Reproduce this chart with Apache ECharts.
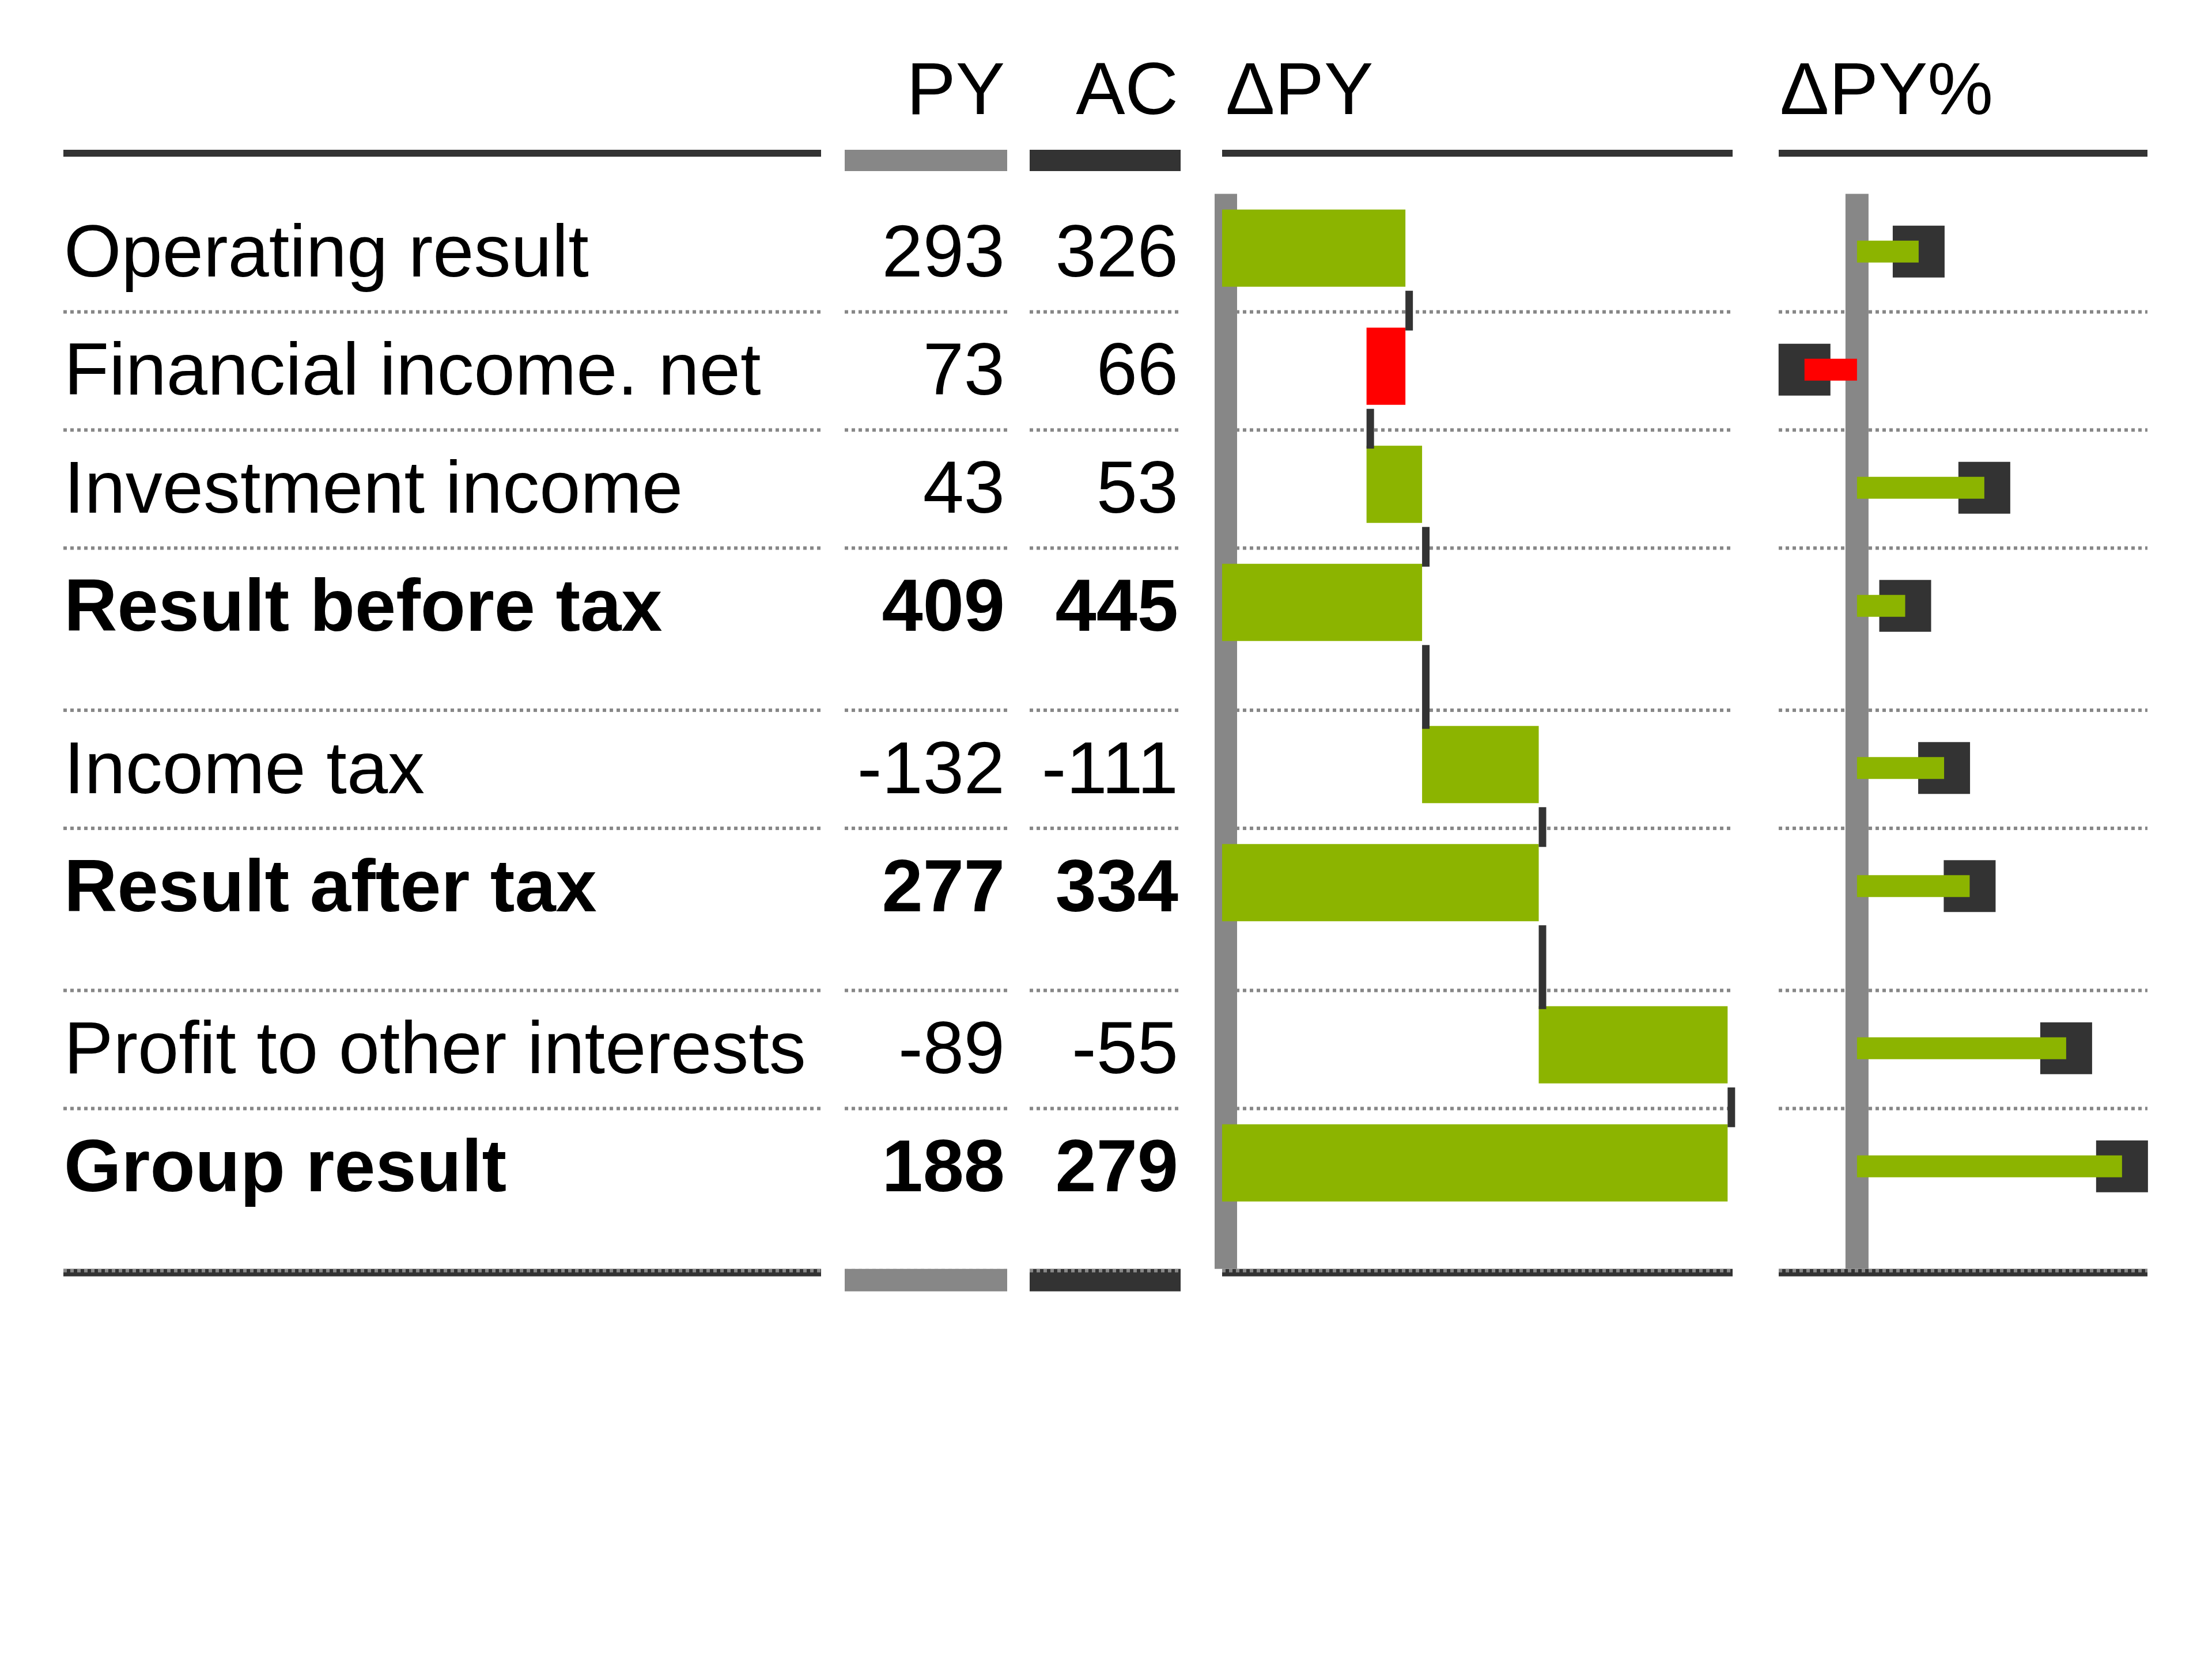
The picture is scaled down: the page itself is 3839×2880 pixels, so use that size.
<!DOCTYPE html>
<html>
<head>
<meta charset="utf-8">
<title>Income statement ΔPY</title>
<script src="https://cdn.jsdelivr.net/npm/echarts@6/dist/echarts.min.js"></script>
<style>
  html, body { margin: 0; padding: 0; background: #fff; }
  #chart { width: 3839px; height: 2880px; }
</style>
</head>
<body>
<div id="chart"></div>
<script>
// statement rows
const categories = [
  'Operating result',
  'Financial income. net',
  'Investment income',
  'Result before tax',
  'Income tax',
  'Result after tax',
  'Profit to other interests',
  'Group result'
];
const py = [293, 73, 43, 409, -132, 277, -89, 188];
const ac = [326, 66, 53, 445, -111, 334, -55, 279];
const isTotal = [false, false, false, true, false, true, false, true];
const headers = ['PY', 'AC', 'ΔPY', 'ΔPY%'];

const GREEN = '#8cb400', RED = '#ff0000', DARK = '#333333', GRAY = '#878787';
const FONT = '"Liberation Sans", Arial, sans-serif';
const FONT_SIZE = 128;

/* derived values */
const delta = ac.map((v, i) => v - py[i]);
const pct = delta.map((d, i) => d / Math.abs(py[i]) * 100);
// waterfall: deltas stack up, totals start again from zero
const wfStart = [], wfEnd = [];
let run = 0;
delta.forEach((d, i) => {
  if (isTotal[i]) {
    wfStart.push(0); wfEnd.push(d); run = d;
  } else {
    wfStart.push(run); run += d; wfEnd.push(run);
  }
});

/* row layout, in row units (one row = 1, extra space after totals) */
const GAP = 0.373;
const ROW_MID = 0.46;
const ROW_PX = 205;
const rowTop = [];
let t = 0;
isTotal.forEach(tot => { rowTop.push(t); t += 1 + (tot ? GAP : 0); });
const yMin = -GAP, yMax = t;
const gridTop = 260;
const gridHeight = (yMax - yMin) * ROW_PX;

// label, PY, AC, ΔPY, ΔPY% columns
const gridBox = [[110, 1315], [1466, 282], [1787, 262], [2121, 886], [3087, 640]];
const xRange = [[0, 1], [0, 1], [0, 1], [0, 91.9], [-14.3, 53.05]];

function xEdges(api, g, y) {
  const a = api.coord([xRange[g][0], y]);
  const b = api.coord([xRange[g][1], y]);
  return [a[0], b[0], a[1]];
}

function textEl(x, y, text, bold, align) {
  return {
    type: 'text', x: x, y: y,
    style: {
      text: text, fill: '#000', fontSize: FONT_SIZE, fontFamily: FONT,
      fontWeight: bold ? 'bold' : 'normal', align: align, verticalAlign: 'middle'
    }
  };
}

function custom(g, z, data, renderItem) {
  return {
    type: 'custom', xAxisIndex: g, yAxisIndex: g, z: z, silent: true,
    data: data, renderItem: renderItem
  };
}

const series = [];

// dotted row separators
gridBox.forEach((b, g) => {
  series.push(custom(g, 1, rowTop.slice(1).map(y => [xRange[g][0], y]), (params, api) => {
    const [x1, x2, y] = xEdges(api, g, api.value(1));
    return { type: 'line', shape: { x1: x1, y1: y, x2: x2, y2: y },
      style: { stroke: GRAY, lineWidth: 6, lineDash: [6, 6] } };
  }));
});

// header and footer rules
gridBox.forEach((b, g) => {
  const colBar = g === 1 ? GRAY : g === 2 ? DARK : null;
  series.push(custom(g, 2, [[xRange[g][0], yMin], [xRange[g][0], yMax]], (params, api) => {
    const [x1, x2, y] = xEdges(api, g, api.value(1));
    const w = x2 - x1;
    const h = colBar ? 37 : 12;
    if (params.dataIndex === 0) {
      return { type: 'rect', shape: { x: x1, y: y, width: w, height: h }, style: { fill: colBar || DARK } };
    }
    return { type: 'group', children: [
      { type: 'rect', shape: { x: x1, y: y - 3, width: w, height: colBar ? 39 : 13 }, style: { fill: colBar || DARK } },
      { type: 'line', shape: { x1: x1, y1: y, x2: x2, y2: y }, style: { stroke: GRAY, lineWidth: 6, lineDash: [6, 6] } }
    ] };
  }));
});

// column headers
headers.forEach((h, k) => {
  const g = k + 1;
  const right = g <= 2;
  series.push(custom(g, 5, [[xRange[g][right ? 1 : 0], yMin]], (params, api) => {
    const p = api.coord([api.value(0), api.value(1)]);
    const dx = right ? -4 : (g === 3 ? 6 : 2);
    return textEl(p[0] + dx, p[1] - 97, h, false, right ? 'right' : 'left');
  }));
});

// labels and values
const rowData = g => rowTop.map(y => [xRange[g][g === 0 ? 0 : 1], y + ROW_MID]);
series.push(custom(0, 5, rowData(0), (params, api) => {
  const i = params.dataIndex;
  const p = api.coord([api.value(0), api.value(1)]);
  return textEl(p[0] + 1, p[1] + 14, categories[i], isTotal[i], 'left');
}));
[py, ac].forEach((vals, k) => {
  const g = k + 1;
  series.push(custom(g, 5, rowData(g), (params, api) => {
    const i = params.dataIndex;
    const p = api.coord([api.value(0), api.value(1)]);
    return textEl(p[0] - 4, p[1] + 14, String(vals[i]), isTotal[i], 'right');
  }));
});

// ΔPY waterfall
series.push(custom(3, 3, [[0, 0]], (params, api) => {
  const top = api.coord([0, 0]);
  const bot = api.coord([0, yMax]);
  return { type: 'rect', shape: { x: top[0] - 13, y: top[1], width: 39, height: bot[1] - 3 - top[1] }, style: { fill: GRAY } };
}));
series.push(custom(3, 4, rowTop.map((y, i) => [wfEnd[i], y + ROW_MID]), (params, api) => {
  const i = params.dataIndex;
  const a = api.coord([wfStart[i], api.value(1)]);
  const b = api.coord([wfEnd[i], api.value(1)]);
  return { type: 'rect',
    shape: { x: Math.min(a[0], b[0]), y: a[1] - 67, width: Math.abs(b[0] - a[0]), height: 134 },
    style: { fill: delta[i] >= 0 ? GREEN : RED } };
}));
series.push(custom(3, 4, rowTop.slice(0, -1).map((y, i) => [wfEnd[i], y + ROW_MID]), (params, api) => {
  const i = params.dataIndex;
  const a = api.coord([wfEnd[i], rowTop[i] + ROW_MID]);
  const b = api.coord([wfEnd[i], rowTop[i + 1] + ROW_MID]);
  const y1 = a[1] + 67 + 7, y2 = b[1] - 67 + 5;
  return { type: 'rect', shape: { x: a[0], y: y1, width: 13, height: y2 - y1 }, style: { fill: DARK } };
}));

// ΔPY% pins
series.push(custom(4, 3, [[0, 0]], (params, api) => {
  const top = api.coord([0, 0]);
  const bot = api.coord([0, yMax]);
  return { type: 'rect', shape: { x: top[0] - 20, y: top[1], width: 40, height: bot[1] - 3 - top[1] }, style: { fill: GRAY } };
}));
series.push(custom(4, 4, rowTop.map((y, i) => [pct[i], y + ROW_MID]), (params, api) => {
  const i = params.dataIndex;
  const z0 = api.coord([0, api.value(1)]);
  const p = api.coord([pct[i], api.value(1)]);
  const cy = p[1] + 6;
  return { type: 'group', children: [
    { type: 'rect', shape: { x: p[0] - 45, y: cy - 45, width: 90, height: 90 }, style: { fill: DARK } },
    { type: 'rect', shape: { x: Math.min(z0[0], p[0]), y: cy - 19, width: Math.abs(p[0] - z0[0]), height: 38 },
      style: { fill: pct[i] >= 0 ? GREEN : RED } }
  ] };
}));

const chart = echarts.init(document.getElementById('chart'), null, { renderer: 'canvas' });
chart.setOption({
  animation: false,
  backgroundColor: '#fff',
  grid: gridBox.map(b => ({
    left: b[0], width: b[1], top: gridTop, height: gridHeight,
    outerBoundsMode: 'none', containLabel: false
  })),
  xAxis: xRange.map((r, g) => ({ type: 'value', gridIndex: g, min: r[0], max: r[1], show: false })),
  yAxis: xRange.map((r, g) => ({ type: 'value', gridIndex: g, min: yMin, max: yMax, inverse: true, show: false })),
  series: series
});
</script>
</body>
</html>
